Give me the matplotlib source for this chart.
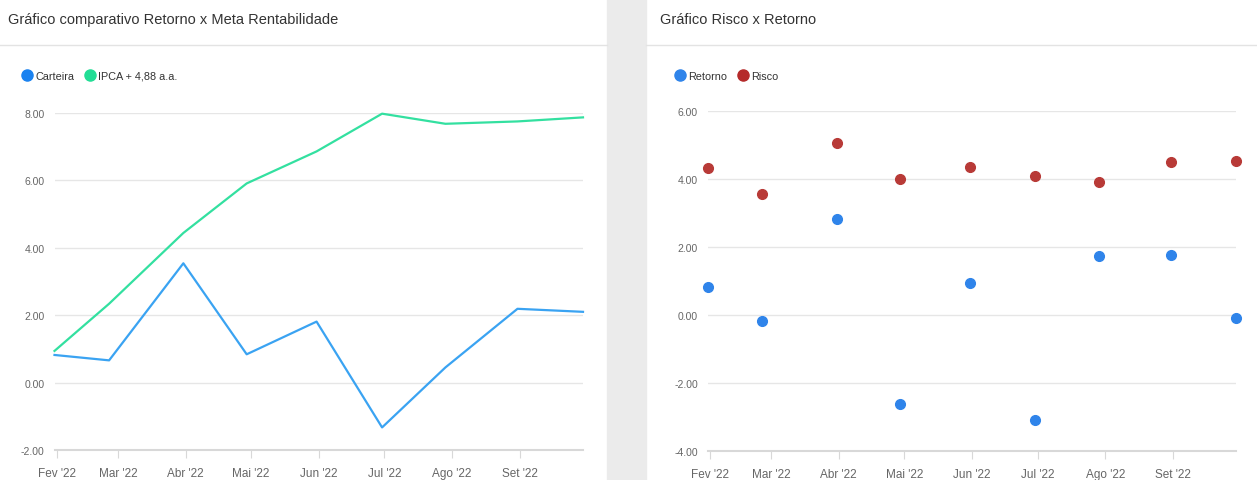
import datetime as dt
import matplotlib
matplotlib.use("Agg")
import matplotlib.pyplot as plt
from matplotlib.patches import Rectangle
from matplotlib.lines import Line2D

plt.rcParams['font.family'] = ['Liberation Sans Narrow', 'Liberation Sans', 'DejaVu Sans']

# dates of each monthly point (last business day of the month)
datas = ["2022-01-31", "2022-02-25", "2022-03-31", "2022-04-29", "2022-05-31",
         "2022-06-30", "2022-07-29", "2022-08-31", "2022-09-30"]
datas = [dt.datetime.strptime(d, "%Y-%m-%d") for d in datas]

# left chart: cumulative return vs target
carteira = [0.82, 0.66, 3.54, 0.84, 1.81, -1.33, 0.45, 2.19, 2.10]
ipca_meta = [0.94, 2.34, 4.44, 5.91, 6.86, 7.98, 7.68, 7.75, 7.87]

# right chart: return vs risk
retorno = [0.83, -0.18, 2.83, -2.61, 0.95, -3.09, 1.73, 1.77, -0.09]
risco = [4.33, 3.55, 5.06, 4.01, 4.35, 4.10, 3.90, 4.49, 4.53]

meses = ["Fev '22", "Mar '22", "Abr '22", "Mai '22", "Jun '22",
         "Jul '22", "Ago '22", "Set '22"]
tick_datas = [dt.datetime(2022, m, 1) for m in range(2, 10)]

c_carteira = "#3aa3f2"
c_ipca = "#33e0a0"
c_retorno = "#2f84ea"
c_risco = "#b83a37"
c_grid = "#e6e6e6"
c_text = "#666666"

fig = plt.figure(figsize=(12.57, 4.81), dpi=100)

# grey separator between the two panels
fig.patches.append(Rectangle((607 / 1257, 0), 39 / 1257, 1, transform=fig.transFigure,
                             color="#ebebeb", zorder=0))
# header rules
fig.add_artist(Line2D([0, 607 / 1257], [1 - 46 / 481] * 2, color="#e3e3e3", lw=1))
fig.add_artist(Line2D([646 / 1257, 1], [1 - 46 / 481] * 2, color="#e3e3e3", lw=1))

fig.text(8 / 1257, 1 - 20 / 481, "Gráfico comparativo Retorno x Meta Rentabilidade",
         fontsize=10.5, color="#333333", va="center", ha="left")
fig.text(660 / 1257, 1 - 20 / 481, "Gráfico Risco x Retorno",
         fontsize=10.5, color="#333333", va="center", ha="left")


def style_axes(ax, ymin, ymax):
    ax.set_ylim(ymin, ymax)
    ax.set_yticks(range(ymin, ymax + 1, 2))
    ax.yaxis.set_major_formatter(matplotlib.ticker.FormatStrFormatter("%.2f"))
    ax.grid(axis="y", color=c_grid, lw=1)
    ax.set_axisbelow(True)
    for s in ["top", "right", "left"]:
        ax.spines[s].set_visible(False)
    ax.spines["bottom"].set_color("#d8d8d8")
    ax.spines["bottom"].set_linewidth(1.5)
    ax.set_xlim(datas[0], datas[-1])
    ax.set_xticks(tick_datas)
    ax.set_xticklabels(meses)
    ax.tick_params(axis="x", length=6, color="#d8d8d8", labelsize=8.5,
                   labelcolor=c_text, pad=6)
    ax.tick_params(axis="y", length=0, labelsize=7.5, labelcolor=c_text, pad=7)


ax1 = fig.add_axes([54.5 / 1257, 1 - 451 / 481, 528.5 / 1257, 337 / 481])
ax1.plot(datas, carteira, color=c_carteira, lw=1.6, clip_on=False)
ax1.plot(datas, ipca_meta, color=c_ipca, lw=1.6, clip_on=False)
style_axes(ax1, -2, 8)

ax2 = fig.add_axes([707.7 / 1257, 1 - 452 / 481, 528.7 / 1257, 340 / 481])
ax2.plot(datas, retorno, "o", color=c_retorno, ms=7, clip_on=False)
ax2.plot(datas, risco, "o", color=c_risco, ms=7, clip_on=False)
style_axes(ax2, -4, 6)

# legends
h1 = [Line2D([], [], marker="o", ls="", color="#1a82f0", ms=8),
      Line2D([], [], marker="o", ls="", color="#22dd95", ms=8)]
fig.legend(h1, ["Carteira", "IPCA + 4,88 a.a."], loc="center left",
           bbox_to_anchor=(9 / 1257, 1 - 77 / 481), ncol=2, frameon=False,
           fontsize=7.8, handletextpad=0.0, columnspacing=0.7, handlelength=1.5,
           labelcolor="#333333")
h2 = [Line2D([], [], marker="o", ls="", color=c_retorno, ms=8),
      Line2D([], [], marker="o", ls="", color="#b52a2a", ms=8)]
fig.legend(h2, ["Retorno", "Risco"], loc="center left",
           bbox_to_anchor=(662 / 1257, 1 - 77 / 481), ncol=2, frameon=False,
           fontsize=7.8, handletextpad=0.0, columnspacing=0.7, handlelength=1.5,
           labelcolor="#333333")

fig.savefig("out.png", dpi=100)
